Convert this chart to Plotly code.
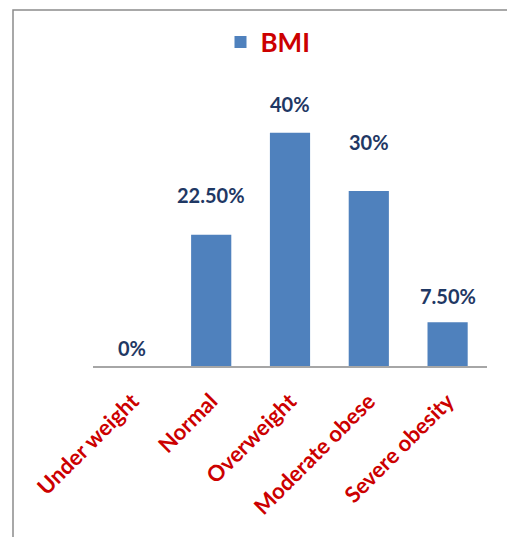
import plotly.graph_objects as go

categories = ["Under weight", "Normal", "Overweight", "Moderate obese", "Severe obesity"]
values = [0, 22.5, 40, 30, 7.5]
value_labels = ["0%", "22.50%", "40%", "30%", "7.50%"]
series_name = "BMI"

# vertical offsets (px) of the value labels above each bar, as in the reference
label_offsets = [18, 40, 29, 49, 26]

W, H = 507, 537
ml, mr, mt, mb = 93, 20, 80, 171
pw, ph = W - ml - mr, H - mt - mb

fig = go.Figure()
fig.add_trace(go.Bar(
    x=categories, y=values, name=series_name,
    marker=dict(color="#4F81BD", line=dict(width=0)),
    hoverinfo="skip",
))

for c, v, t, off in zip(categories, values, value_labels, label_offsets):
    fig.add_annotation(x=c, y=v, text=t, showarrow=False, yshift=off,
                       yanchor="middle", xanchor="center",
                       font=dict(family="Lato", size=20, color="#1F3864", weight="bold"))

# outer chart frame
fig.add_shape(type="rect", xref="paper", yref="paper",
              x0=(13 - ml) / pw, x1=1.3, y0=-1.0, y1=(mt + ph - 10) / ph,
              line=dict(color="#8C8C8C", width=1.5), fillcolor="rgba(0,0,0,0)",
              layer="below")

fig.update_layout(
    width=W, height=H,
    margin=dict(l=ml, r=mr, t=mt, b=mb),
    paper_bgcolor="white", plot_bgcolor="white",
    bargap=0.49,
    showlegend=True,
    legend=dict(orientation="h", x=(268 - ml) / pw, xanchor="center", y=(mt + ph - 42) / ph,
                yanchor="middle",
                font=dict(family="Lato", size=26, color="#CC0000", weight="bold"),
                itemwidth=30, bgcolor="rgba(0,0,0,0)"),
    xaxis=dict(showline=True, linecolor="#A6A6A6", linewidth=1.5, ticks="",
               tickangle=-45, ticklabelstandoff=12,
               tickfont=dict(family="Lato", size=22, color="#CC0000", weight="bold"),
               showgrid=False, fixedrange=True),
    yaxis=dict(range=[0, ph / 5.83], visible=False, showgrid=False, fixedrange=True),
    font=dict(family="Lato"),
)

fig.write_html("out.html")
